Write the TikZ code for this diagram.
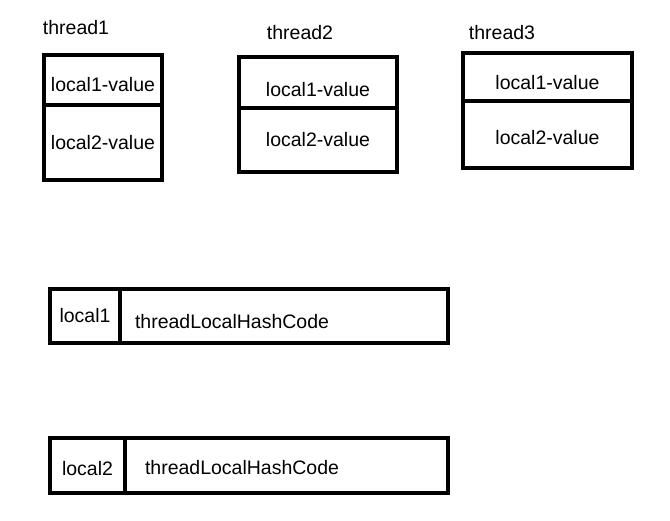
\documentclass[tikz,border=0pt]{standalone}
\usepackage{fontspec}
\setmainfont{Liberation Sans}
\begin{document}
\begin{tikzpicture}[x=1pt,y=-1pt]
            \tikzset{
            tl cell/.style={rectangle,draw,line width=4pt,inner sep=0,outer sep=0,font=\fontsize{19.5}{22}\selectfont},
            tl name/.style={font=\fontsize{19.5}{22}\selectfont},
            tl hash/.style={tl cell,align=left,inner xsep=#1,inner ysep=0},
            tl drop/.style={text height=#1}
            }
            \useasboundingbox (0,0) rectangle (670,521);
            % threads
            \node[tl name] (th1) at (76,28) {thread1};
            \node[tl name] (th2) at (300,33) {thread2};
            \node[tl name] (th3) at (502,33) {thread3};
            
            \node[tl cell,tl drop=24pt,minimum width=118pt,minimum height=50pt] (t1v1) at (103,80) {local1-value};
            \node[tl cell,minimum width=118pt,minimum height=75pt] (t1v2) at (103,142.5) {local2-value};
            \node[tl cell,tl drop=29pt,minimum width=158pt,minimum height=51pt] (t2v1) at (318,82.5) {local1-value};
            \node[tl cell,minimum width=158pt,minimum height=64pt] (t2v2) at (318,140) {local2-value};
            \node[tl cell,tl drop=26pt,minimum width=169pt,minimum height=48pt] (t3v1) at (547.5,77) {local1-value};
            \node[tl cell,tl drop=20pt,minimum width=169pt,minimum height=67pt] (t3v2) at (547.5,134.5) {local2-value};
            
            % locals
            \node[tl cell,minimum width=70pt,minimum height=54pt] (l1) at (85,316) {local1};
            \node[tl hash=15pt,tl drop=26pt,text width=298pt,minimum height=54pt,anchor=west] (h1) at (l1.east) {threadLocalHashCode};
            \node[tl cell,tl drop=20pt,minimum width=75pt,minimum height=55pt] (l2) at (87.5,465.5) {local2};
            \node[tl hash=20pt,tl drop=18pt,text width=283pt,minimum height=55pt,anchor=west] (h2) at (l2.east) {threadLocalHashCode};
        \end{tikzpicture}
\end{document}
